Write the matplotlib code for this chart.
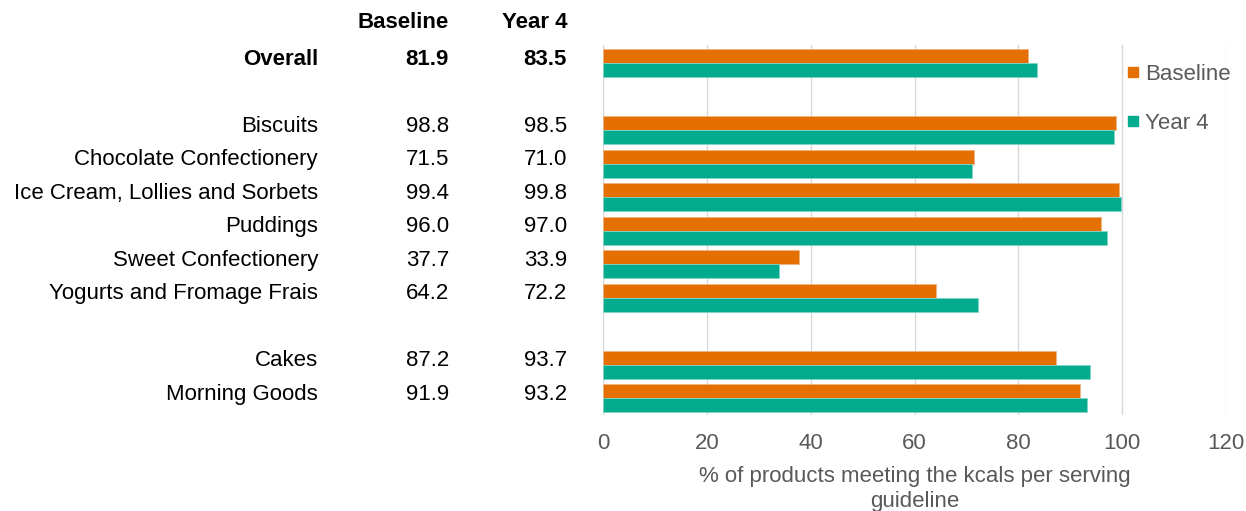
import matplotlib.pyplot as plt
from matplotlib.lines import Line2D
from matplotlib.transforms import blended_transform_factory

plt.rcParams['font.family'] = ['Liberation Sans', 'DejaVu Sans']

# data
categories = ["Overall", "Biscuits", "Chocolate Confectionery",
              "Ice Cream, Lollies and Sorbets", "Puddings",
              "Sweet Confectionery", "Yogurts and Fromage Frais",
              "Cakes", "Morning Goods"]
baseline = [81.9, 98.8, 71.5, 99.4, 96.0, 37.7, 64.2, 87.2, 91.9]
year4 = [83.5, 98.5, 71.0, 99.8, 97.0, 33.9, 72.2, 93.7, 93.2]
rows = [0, 2, 3, 4, 5, 6, 7, 9, 10]  # gaps between groups

orange = "#E37000"
teal = "#00AB8E"
grey = "#595959"
fs = 16

fig = plt.figure(figsize=(12.46, 5.11), dpi=100)
ax = fig.add_axes([0.484, 0.188, 0.5, 0.724])

h = 0.42
ax.barh([r - h / 2 for r in rows], baseline, height=h, color=orange, edgecolor="#F3B27F", linewidth=0.6, zorder=3)
ax.barh([r + h / 2 for r in rows], year4, height=h, color=teal, edgecolor="#7FD5C6", linewidth=0.6, zorder=3)

ax.set_xlim(0, 120)
ax.set_ylim(10.5, -0.55)
ax.set_xticks(range(0, 121, 20))
ax.set_yticks([])
ax.grid(axis="x", color="#D9D9D9", linewidth=1, zorder=0)
for s in ax.spines.values():
    s.set_visible(False)
ax.tick_params(axis="x", length=0, pad=13, labelsize=fs, labelcolor=grey)
ax.set_xlabel("% of products meeting the kcals per serving\nguideline",
              fontsize=fs, color=grey, labelpad=9, linespacing=1.2)

# table at left
tr = blended_transform_factory(fig.transFigure, ax.transData)
for i, (cat, b, y4, r) in enumerate(zip(categories, baseline, year4, rows)):
    w = "bold" if i == 0 else "normal"
    yy = r - 0.12
    ax.text(318 / 1246, yy, cat, transform=tr, ha="right", va="center", fontsize=fs, fontweight=w)
    ax.text(449 / 1246, yy, f"{b:.1f}", transform=tr, ha="right", va="center", fontsize=fs, fontweight=w)
    ax.text(567 / 1246, yy, f"{y4:.1f}", transform=tr, ha="right", va="center", fontsize=fs, fontweight=w)
fig.text(449 / 1246, 1 - 22 / 511, "Baseline", ha="right", va="center", fontsize=fs, fontweight="bold")
fig.text(567 / 1246, 1 - 22 / 511, "Year 4", ha="right", va="center", fontsize=fs, fontweight="bold")

handles = [Line2D([], [], marker="s", linestyle="", color=orange, markersize=7.5),
           Line2D([], [], marker="s", linestyle="", color=teal, markersize=7.5)]
leg = fig.legend(handles, ["Baseline", "Year 4"], loc="upper left",
                 bbox_to_anchor=(1126 / 1246, 1 - 64 / 511), frameon=False,
                 fontsize=fs, labelspacing=1.25, handlelength=0.6,
                 handletextpad=0.25, borderaxespad=0, borderpad=0)
for t in leg.get_texts():
    t.set_color(grey)

fig.savefig("out.png", dpi=100)
